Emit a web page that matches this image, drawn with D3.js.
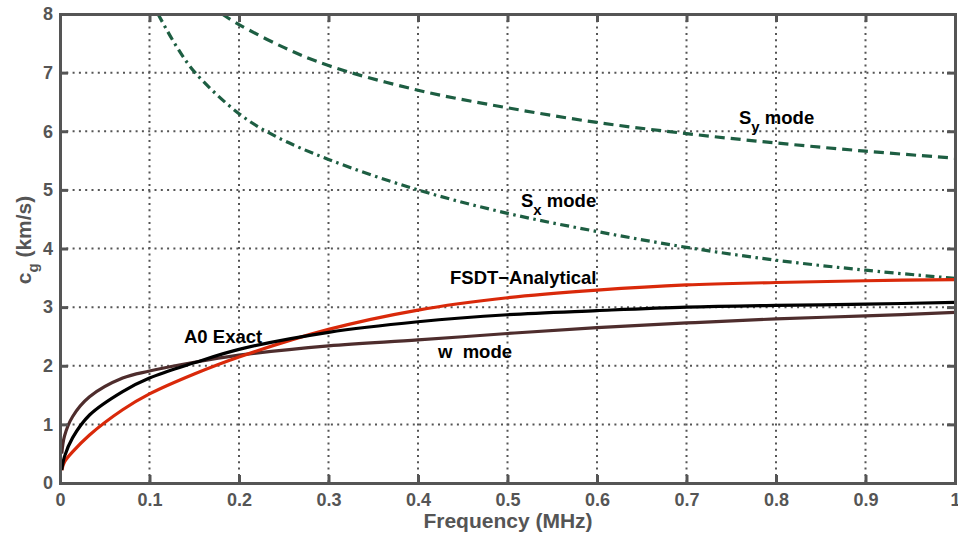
<!DOCTYPE html>
<html>
<head>
<meta charset="utf-8">
<script src="https://cdn.jsdelivr.net/npm/d3@7"></script>
<style>
  body { margin: 0; background: #fff; }
  svg { display: block; }
  text { font-family: "Liberation Sans", Arial, Helvetica, sans-serif; font-weight: bold; }
</style>
</head>
<body>
<svg id="chart" width="958" height="533"></svg>
<script>
// Group velocity dispersion curves (c_g in km/s against frequency in MHz)
const freqFlexural = [0.002, 0.005, 0.014, 0.033, 0.07, 0.1, 0.15, 0.2, 0.3, 0.4, 0.5, 0.6, 0.7, 0.8, 0.9, 1.0];
const fsdtAnalytical = [0.22, 0.36, 0.53, 0.82, 1.25, 1.52, 1.86, 2.15, 2.62, 2.95, 3.16, 3.29, 3.38, 3.42, 3.45, 3.47];
const a0Exact        = [0.22, 0.45, 0.77, 1.16, 1.56, 1.79, 2.05, 2.28, 2.57, 2.75, 2.87, 2.94, 3.00, 3.03, 3.05, 3.08];
const wMode          = [0.50, 0.80, 1.13, 1.47, 1.79, 1.91, 2.06, 2.18, 2.34, 2.44, 2.55, 2.65, 2.73, 2.80, 2.85, 2.91];

const freqSx = [0.1095, 0.13, 0.151, 0.2, 0.24, 0.3, 0.4, 0.5, 0.6, 0.7, 0.8, 0.9, 1.0];
const sxMode = [8.0, 7.45, 7.0, 6.3, 5.92, 5.52, 5.0, 4.60, 4.29, 4.02, 3.80, 3.63, 3.49];

const freqSy = [0.181, 0.2, 0.25, 0.3, 0.4, 0.5, 0.6, 0.7, 0.8, 0.9, 1.0];
const syMode = [8.0, 7.82, 7.43, 7.12, 6.70, 6.40, 6.15, 5.96, 5.80, 5.66, 5.54];

const xTicks = [0, 0.1, 0.2, 0.3, 0.4, 0.5, 0.6, 0.7, 0.8, 0.9, 1];
const yTicks = [0, 1, 2, 3, 4, 5, 6, 7, 8];

const svg = d3.select("#chart");
const m = { left: 60, right: 955, top: 14, bottom: 483 };
const x = d3.scaleLinear().domain([0, 1]).range([m.left, m.right]);
const y = d3.scaleLinear().domain([0, 8]).range([m.bottom, m.top]);
const axisColor = "#555555";

// dotted grid
const grid = svg.append("g");
grid.selectAll("line.gx").data(xTicks.slice(1, -1)).join("line")
  .attr("x1", d => x(d)).attr("x2", d => x(d))
  .attr("y1", m.top).attr("y2", m.bottom)
  .attr("stroke", axisColor).attr("stroke-width", 2).attr("stroke-dasharray", "2,4.3");
grid.selectAll("line.gy").data(yTicks.slice(1, -1)).join("line")
  .attr("y1", d => y(d)).attr("y2", d => y(d))
  .attr("x1", m.left).attr("x2", m.right)
  .attr("stroke", axisColor).attr("stroke-width", 2).attr("stroke-dasharray", "2,4.3");

// curves
svg.append("clipPath").attr("id", "plotClip").append("rect")
  .attr("x", m.left).attr("y", m.top).attr("width", m.right - m.left).attr("height", m.bottom - m.top);
const curves = svg.append("g").attr("clip-path", "url(#plotClip)");
const line = d3.line().x(d => x(d[0])).y(d => y(d[1])).curve(d3.curveCatmullRom.alpha(0.5));
const zipSeries = (xs, ys) => xs.map((v, i) => [v, ys[i]]);

const series = [
  { xs: freqSy, ys: syMode, color: "#1d5e42", dash: "10,6" },
  { xs: freqSx, ys: sxMode, color: "#1d5e42", dash: "9,4.5,2.5,4.5" },
  { xs: freqFlexural, ys: wMode, color: "#4e2d2d", dash: null },
  { xs: freqFlexural, ys: fsdtAnalytical, color: "#d9290a", dash: null },
  { xs: freqFlexural, ys: a0Exact, color: "#000000", dash: null }
];
series.forEach(s => {
  curves.append("path")
    .attr("d", line(zipSeries(s.xs, s.ys)))
    .attr("fill", "none")
    .attr("stroke", s.color)
    .attr("stroke-width", 3.2)
    .attr("stroke-dasharray", s.dash);
});

// box with ticks on all four sides
const axes = svg.append("g");
axes.append("g").attr("transform", `translate(0,${m.bottom})`)
  .call(d3.axisBottom(x).tickValues(xTicks).tickSize(-8).tickPadding(10).tickFormat(d3.format("")));
axes.append("g").attr("transform", `translate(0,${m.top})`)
  .call(d3.axisTop(x).tickValues(xTicks).tickSize(-8).tickFormat(""));
axes.append("g").attr("transform", `translate(${m.left},0)`)
  .call(d3.axisLeft(y).tickValues(yTicks).tickSize(-8).tickPadding(7).tickFormat(d3.format("d")));
axes.append("g").attr("transform", `translate(${m.right},0)`)
  .call(d3.axisRight(y).tickValues(yTicks).tickSize(-8).tickFormat(""));
axes.selectAll("path.domain").attr("stroke", axisColor).attr("stroke-width", 3);
axes.selectAll(".tick line").attr("stroke", axisColor).attr("stroke-width", 3);
axes.selectAll(".tick text").attr("fill", axisColor).attr("font-size", 18)
  .attr("font-family", "'Liberation Sans', Arial, sans-serif").attr("font-weight", "bold");

// axis titles
svg.append("text").attr("x", 508).attr("y", 528).attr("text-anchor", "middle")
  .attr("fill", axisColor).attr("font-size", 21).text("Frequency (MHz)");
const yt = svg.append("text").attr("transform", "translate(31,240) rotate(-90)")
  .attr("text-anchor", "middle").attr("fill", axisColor).attr("font-size", 21);
yt.append("tspan").text("c");
yt.append("tspan").attr("dy", 7).attr("font-size", 15).text("g");
yt.append("tspan").attr("dy", -7).text(" (km/s)");

// curve annotations
const note = (tx, ty, main, sub, rest) => {
  const t = svg.append("text").attr("x", tx).attr("y", ty).attr("font-size", 18.5).attr("fill", "#000");
  t.append("tspan").text(main);
  if (sub) {
    t.append("tspan").attr("dy", 8).attr("font-size", 15).text(sub);
    t.append("tspan").attr("dy", -8).text(rest);
  }
};
note(739, 124, "S", "y", " mode");
note(521, 207, "S", "x", " mode");
note(450, 284, "FSDT\u2212Analytical");
note(184, 343, "A0 Exact");
note(438, 358, "w\u00a0\u00a0mode");
</script>
</body>
</html>
